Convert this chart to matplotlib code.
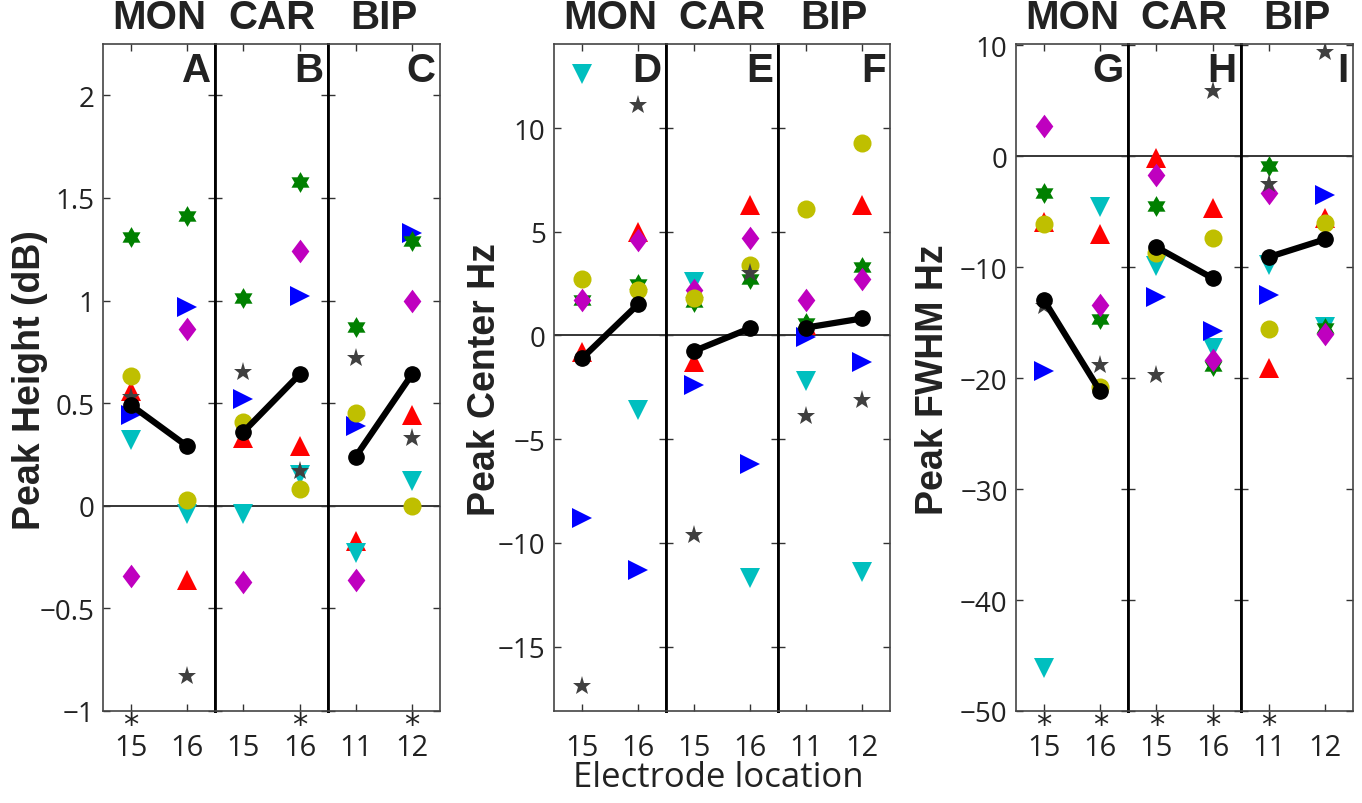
import numpy as np
import matplotlib
matplotlib.use("Agg")
import matplotlib.pyplot as plt
from matplotlib.path import Path

# ---------------- data ----------------
schemes = ["MON", "CAR", "BIP"]
electrodes = [["15", "16"], ["15", "16"], ["11", "12"]]
panel_letters = [["A", "B", "C"], ["D", "E", "F"], ["G", "H", "I"]]
measure_labels = ["Peak Height (dB)", "Peak Center Hz", "Peak FWHM Hz"]
x_axis_label = "Electrode location"

# order of values: MON15, MON16, CAR15, CAR16, BIP11, BIP12
height_red = [0.56, -0.36, 0.33, 0.29, -0.17, 0.44]
height_cyan = [0.32, -0.04, -0.04, 0.15, -0.23, 0.12]
height_blue = [0.44, 0.97, 0.52, 1.02, 0.39, 1.33]
height_green = [1.31, 1.41, 1.01, 1.58, 0.87, 1.29]
height_magenta = [-0.34, 0.86, -0.37, 1.24, -0.36, 1.00]
height_yellow = [0.63, 0.03, 0.41, 0.08, 0.45, 0.00]
height_gray = [0.53, -0.83, 0.65, 0.17, 0.72, 0.33]
height_mean = [0.49, 0.29, 0.36, 0.64, 0.24, 0.64]
height_signif = [1, 0, 0, 1, 0, 1]

center_red = [-0.8, 5.0, -1.3, 6.3, 0.5, 6.3]
center_cyan = [12.6, -3.6, 2.6, -11.7, -2.2, -11.4]
center_blue = [-8.8, -11.3, -2.4, -6.2, -0.05, -1.3]
center_green = [1.7, 2.5, 1.6, 2.7, 0.6, 3.3]
center_magenta = [1.7, 4.6, 2.2, 4.7, 1.7, 2.7]
center_yellow = [2.7, 2.2, 1.8, 3.4, 6.1, 9.3]
center_gray = [-16.9, 11.1, -9.6, 3.0, -3.9, -3.1]
center_mean = [-1.1, 1.5, -0.75, 0.35, 0.38, 0.82]
center_signif = [0, 0, 0, 0, 0, 0]

fwhm_red = [-5.9, -7.0, -0.2, -4.7, -19.1, -5.6]
fwhm_cyan = [-46.1, -4.6, -9.9, -17.3, -9.8, -15.4]
fwhm_blue = [-19.4, -69.0, -12.7, -15.8, -12.5, -3.5]
fwhm_green = [-3.3, -14.7, -4.5, -18.9, -0.9, -15.5]
fwhm_magenta = [2.7, -13.4, -1.7, -18.4, -3.3, -16.0]
fwhm_yellow = [-6.1, -20.8, -8.7, -7.4, -15.6, -6.0]
fwhm_gray = [-13.5, -18.8, -19.7, 5.9, -2.5, 9.4]
fwhm_mean = [-13.0, -21.2, -8.2, -11.0, -9.1, -7.5]
fwhm_signif = [1, 1, 1, 1, 1, 0]

height_ticks = [-1, -0.5, 0, 0.5, 1, 1.5, 2]
height_ticklabels = ["\u22121", "\u22120.5", "0", "0.5", "1", "1.5", "2"]
center_ticks = [-15, -10, -5, 0, 5, 10]
center_ticklabels = ["\u221215", "\u221210", "\u22125", "0", "5", "10"]
fwhm_ticks = [-50, -40, -30, -20, -10, 0, 10]
fwhm_ticklabels = ["\u221250", "\u221240", "\u221230", "\u221220", "\u221210", "0", "10"]

measures = [
    dict(series=[height_red, height_cyan, height_blue, height_green,
                 height_magenta, height_yellow, height_gray],
         mean=height_mean, signif=height_signif, ylim=(-1, 2.25),
         ticks=height_ticks, ticklabels=height_ticklabels),
    dict(series=[center_red, center_cyan, center_blue, center_green,
                 center_magenta, center_yellow, center_gray],
         mean=center_mean, signif=center_signif, ylim=(-18.1, 14.05),
         ticks=center_ticks, ticklabels=center_ticklabels),
    dict(series=[fwhm_red, fwhm_cyan, fwhm_blue, fwhm_green,
                 fwhm_magenta, fwhm_yellow, fwhm_gray],
         mean=fwhm_mean, signif=fwhm_signif, ylim=(-50, 10.1),
         ticks=fwhm_ticks, ticklabels=fwhm_ticklabels),
]

# ---------------- styles ----------------
hexagram = Path.unit_regular_star(6, 0.577)
tall_diamond = Path([(0, 1), (0.75, 0), (0, -1), (-0.75, 0), (0, 1)],
                    [Path.MOVETO, Path.LINETO, Path.LINETO, Path.LINETO, Path.CLOSEPOLY])
styles = [
    dict(marker="^", color="#FF0000", ms=14),
    dict(marker="v", color="#00BFBF", ms=14),
    dict(marker=">", color="#0000FF", ms=14),
    dict(marker=hexagram, color="#008000", ms=15),
    dict(marker=tall_diamond, color="#BF00BF", ms=17),
    dict(marker="o", color="#BFBF00", ms=13),
    dict(marker="*", color="#404040", ms=14),
]

TICK_FONT = "Open Sans"
BOLD_FONT = "Liberation Sans"

W, H = 1362, 804
fig = plt.figure(figsize=(W / 100, H / 100), dpi=100)

group_left = [103, 554, 1016]
group_right = [440, 890, 1353]
ax_top, ax_bottom = 45, 712
ylabel_x = [30, 485, 933]

for g in range(3):
    m = measures[g]
    gw = (group_right[g] - group_left[g]) / 3.0
    for s in range(3):
        l = group_left[g] + s * gw
        ax = fig.add_axes([l / W, (H - ax_bottom) / H, gw / W, (ax_bottom - ax_top) / H])
        ax.set_xlim(0.5, 2.5)
        ax.set_ylim(*m["ylim"])
        ax.axhline(0, color="black", lw=1.1, zorder=1)
        xs = [1, 2]
        for ser, st in zip(m["series"], styles):
            vals = ser[2 * s:2 * s + 2]
            ax.plot(xs, vals, linestyle="none", marker=st["marker"],
                    color=st["color"], markersize=st["ms"], markeredgewidth=0,
                    zorder=3)
        ax.plot(xs, m["mean"][2 * s:2 * s + 2], "-o", color="black", lw=4.5,
                markersize=11, zorder=5)
        # ticks
        ax.set_xticks(xs)
        ax.set_xticklabels(electrodes[s], fontsize=21, family=TICK_FONT, color="#222222")
        ax.set_yticks(m["ticks"])
        if s == 0:
            ax.set_yticklabels(m["ticklabels"], fontsize=20, family=TICK_FONT, color="#222222")
        else:
            ax.set_yticklabels([])
        ax.tick_params(direction="in", length=5, width=1, top=True, right=True,
                       color="#333333", pad=6)
        ax.tick_params(axis="x", pad=16)
        for side in ["top", "bottom"]:
            ax.spines[side].set_color("#444444")
            ax.spines[side].set_linewidth(1.2)
        ax.spines["left"].set_color("#444444" if s == 0 else "black")
        ax.spines["left"].set_linewidth(1.2 if s == 0 else 2.0)
        ax.spines["right"].set_color("#444444" if s == 2 else "black")
        ax.spines["right"].set_linewidth(1.2 if s == 2 else 2.0)
        # header and letter
        ax.text(0.5, 1.012, schemes[s], transform=ax.transAxes, ha="center",
                va="bottom", fontsize=29, fontweight="bold", family=BOLD_FONT,
                color="#222222")
        ax.text(0.96, 0.99, panel_letters[g][s], transform=ax.transAxes,
                ha="right", va="top", fontsize=29, fontweight="bold",
                family=BOLD_FONT, color="#222222")
        # significance asterisks
        for i in range(2):
            if m["signif"][2 * s + i]:
                ax.annotate("*", xy=(xs[i], 0), xycoords=("data", "axes fraction"),
                            xytext=(0, 1), textcoords="offset points",
                            ha="center", va="top", fontsize=22,
                            family="DejaVu Sans", color="#222222")
    fig.text(ylabel_x[g] / W, (H - 380) / H, measure_labels[g], rotation=90,
             ha="center", va="center", fontsize=27, fontweight="bold",
             family=BOLD_FONT, color="#222222")

fig.text(718 / W, (H - 778) / H, x_axis_label, ha="center", va="center",
         fontsize=25, family=TICK_FONT, color="#222222")

fig.savefig("out.png", dpi=100)
